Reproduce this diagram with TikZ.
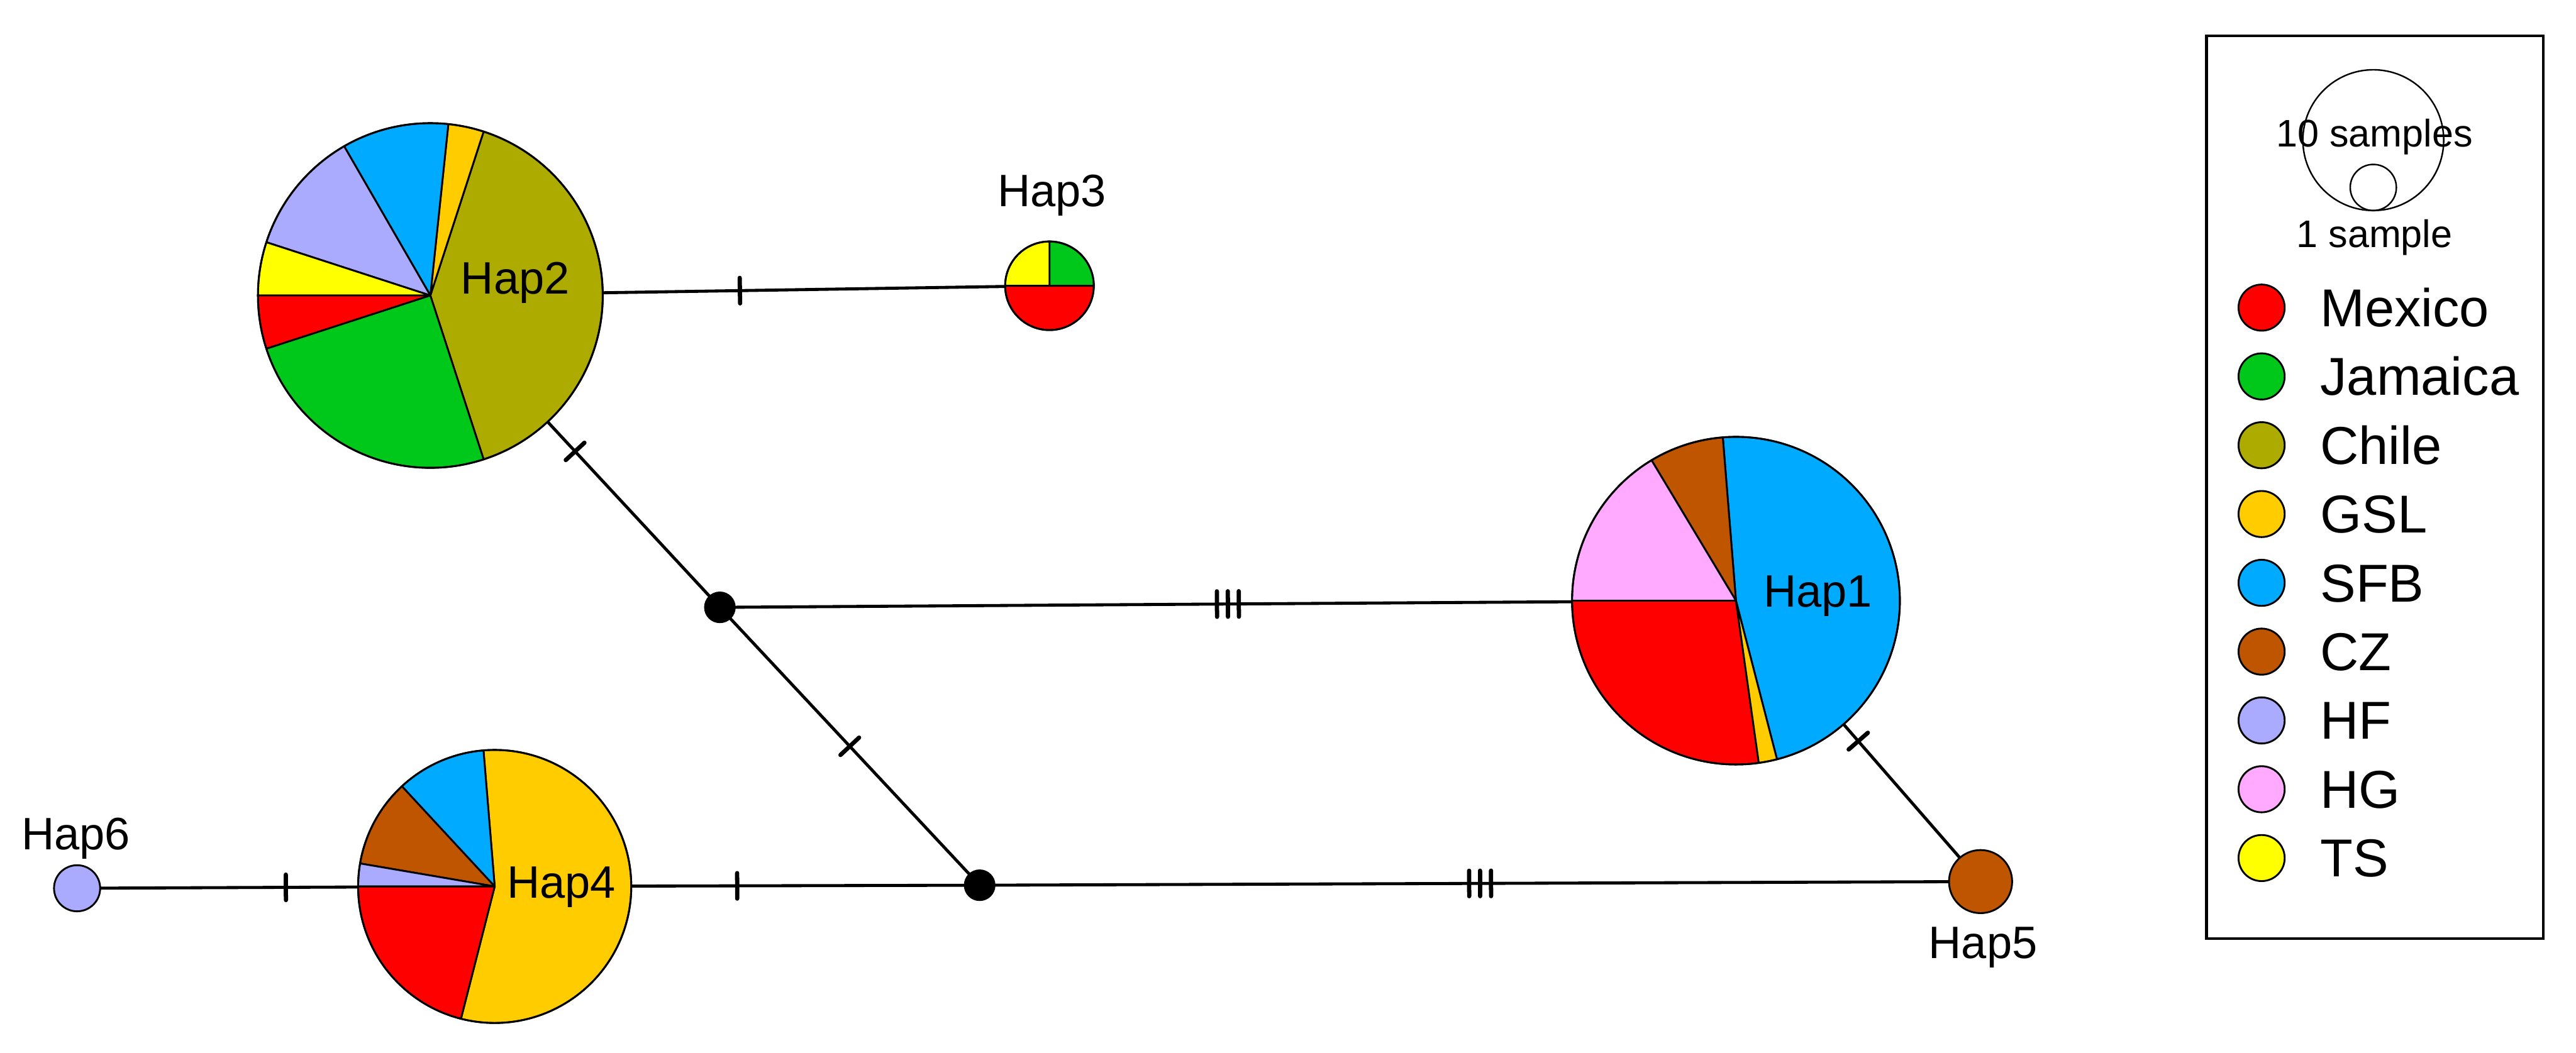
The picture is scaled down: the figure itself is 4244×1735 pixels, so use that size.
\documentclass[tikz,border=0pt]{standalone}
\usepackage{fontspec}
\setmainfont{Liberation Sans}
\usetikzlibrary{decorations.markings}
\definecolor{cmexico}{HTML}{FF0000}
\definecolor{cjamaica}{HTML}{00C81A}
\definecolor{cchile}{HTML}{ADAA00}
\definecolor{cgsl}{HTML}{FFCC00}
\definecolor{csfb}{HTML}{00AAFF}
\definecolor{ccz}{HTML}{C05500}
\definecolor{chf}{HTML}{AAAAFF}
\definecolor{chg}{HTML}{FFAAFF}
\definecolor{cts}{HTML}{FFFF00}
\tikzset{
  edge/.style={line width=0.5mm},
  onetick/.style={postaction={decorate}, decoration={markings,
    mark=at position 0.5 with {\draw[line width=0.7mm, line cap=round] (0,-0.21cm) -- (0,0.21cm);}}},
  threetick/.style={postaction={decorate}, decoration={markings,
    mark=at position 0.5 with {\foreach \dx in {-0.18,0,0.18} {\draw[line width=0.7mm, line cap=round] (\dx cm,-0.21cm) -- (\dx cm,0.21cm);}}}},
  pieline/.style={line width=0.3mm, line join=round},
  haplabel/.style={inner sep=0pt, anchor=base, font=\fontsize{21.3}{25}\selectfont},
  legtext/.style={inner sep=0pt, anchor=base west, font=\fontsize{25}{30}\selectfont},
  sizetext/.style={inner sep=0pt, anchor=base, font=\fontsize{18}{22}\selectfont},
  median/.style={fill=black},
}
\newcommand{\wedgefill}[5]{%
  \filldraw[fill=#5, pieline] (#1) -- ++(#3:#2) arc[start angle=#3, end angle=#4, radius=#2] -- cycle;}
\begin{document}
\begin{tikzpicture}[x=0.01cm, y=0.01cm]
\useasboundingbox (0,0) rectangle (4244,1735);
% haplotype centres
\coordinate (hap2) at (709,1248);
\coordinate (hap3) at (1729,1264);
\coordinate (hap1) at (2860,745);
\coordinate (hap4) at (815,274);
\coordinate (hap5) at (3263,282);
\coordinate (hap6) at (127,271);
\coordinate (m1) at (1186,734);
\coordinate (m2) at (1614,276);
% connectors
\draw[edge, onetick] (hap2) -- (hap3);
\draw[edge, onetick] (hap2) -- (m1);
\draw[edge, threetick] (m1) -- (hap1);
\draw[edge, onetick] (m1) -- (m2);
\draw[edge, onetick] (hap6) -- (hap4);
\draw[edge, onetick] (hap4) -- (m2);
\draw[edge, threetick] (m2) -- (hap5);
\draw[edge, onetick] (hap1) -- (hap5);
% median vectors
\fill[median] (m1) circle[radius=26];
\fill[median] (m2) circle[radius=26];
% Hap2
\wedgefill{hap2}{284}{-72}{72}{cchile}
\wedgefill{hap2}{284}{72}{84}{cgsl}
\wedgefill{hap2}{284}{84}{120}{csfb}
\wedgefill{hap2}{284}{120}{162}{chf}
\wedgefill{hap2}{284}{162}{180}{cts}
\wedgefill{hap2}{284}{180}{198}{cmexico}
\wedgefill{hap2}{284}{198}{288}{cjamaica}
\draw[pieline] (hap2) circle[radius=284];
% Hap1
\wedgefill{hap1}{270}{-75.5}{94.6}{csfb}
\wedgefill{hap1}{270}{94.6}{121}{ccz}
\wedgefill{hap1}{270}{121}{180}{chg}
\wedgefill{hap1}{270}{180}{278}{cmexico}
\wedgefill{hap1}{270}{278}{284.5}{cgsl}
\draw[pieline] (hap1) circle[radius=270];
% Hap4
\wedgefill{hap4}{225}{-104.3}{94.7}{cgsl}
\wedgefill{hap4}{225}{94.7}{132.8}{csfb}
\wedgefill{hap4}{225}{132.8}{170.3}{ccz}
\wedgefill{hap4}{225}{170.3}{180}{chf}
\wedgefill{hap4}{225}{180}{255.7}{cmexico}
\draw[pieline] (hap4) circle[radius=225];
% Hap3
\wedgefill{hap3}{73}{0}{90}{cjamaica}
\wedgefill{hap3}{73}{90}{180}{cts}
\wedgefill{hap3}{73}{180}{360}{cmexico}
\draw[pieline] (hap3) circle[radius=73];
% Hap5, Hap6
\filldraw[fill=ccz, pieline] (hap5) circle[radius=52];
\filldraw[fill=chf, pieline] (hap6) circle[radius=38];
% labels
\node[haplabel] (lhap2) at (849,1251) {Hap2};
\node[haplabel] (lhap1) at (2995,735) {Hap1};
\node[haplabel] (lhap4) at (925,255) {Hap4};
\node[haplabel] (lhap3) at (1733,1395) {Hap3};
\node[haplabel] (lhap5) at (3267,155) {Hap5};
\node[haplabel] (lhap6) at (125,335) {Hap6};
% legend
\draw[line width=0.5mm] (3635,188) rectangle (4190,1676);
\draw[line width=0.25mm] (3910,1504) circle[radius=116];
\draw[line width=0.25mm] (3910,1426) circle[radius=38];
\node[sizetext] (ten) at (3912,1493) {10 samples};
\node[sizetext] (one) at (3912,1327) {1 sample};
\foreach \nm/\col [count=\i from 0] in {Mexico/cmexico, Jamaica/cjamaica, Chile/cchile, GSL/cgsl, SFB/csfb, CZ/ccz, HF/chf, HG/chg, TS/cts} {
  \filldraw[fill=\col, pieline] (3726,1228-113.4*\i) circle[radius=38];
  \node[legtext] (leg\i) at (3822,1197-113.4*\i) {\nm};
}
\end{tikzpicture}
\end{document}
